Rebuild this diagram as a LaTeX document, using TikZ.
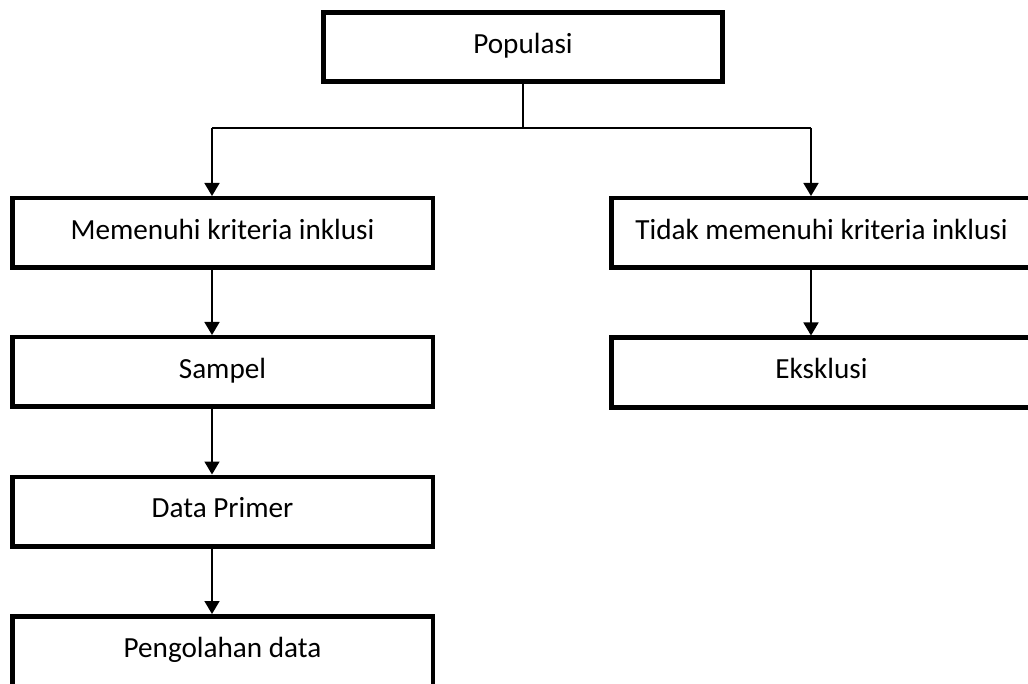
\documentclass[tikz,border=0pt]{standalone}
\usepackage{fontspec}
\setmainfont{Carlito}
\usetikzlibrary{arrows.meta,positioning}

\begin{document}
\begin{tikzpicture}[x=1pt, y=-1pt,
    box/.style={draw, line width=4.5pt, minimum width=420.5pt, minimum height=69.5pt, inner sep=0pt, align=center, font=\fontsize{29.2}{34}\selectfont, text height=20.8pt, text depth=8pt},
    arr/.style={-{Triangle[width=15pt,length=13pt]}, line width=1.7pt},
    ln/.style={line width=1.7pt}
]
\useasboundingbox (0,0) rectangle (1028,684);
\node[box, line width=5pt, minimum width=399pt, minimum height=69pt] (pop) at (523,47) {Populasi};
\node[box] (mem) at (222.5,233) {Memenuhi kriteria inklusi};
\node[box] (tdk) at (821.5,233) {Tidak memenuhi kriteria inklusi};
\node[box] (smp) at (222.5,372) {Sampel};
\node[box] (eks) at (821.5,372.5) {Eksklusi};
\node[box] (dat) at (222.5,511.5) {Data Primer};
\node[box] (olh) at (222.5,651) {Pengolahan data};

\coordinate (jc) at (523,128);
\coordinate (jl) at (212,128);
\coordinate (jr) at (811,128);

\draw[ln] (pop) -- (jc);
\draw[ln] (jl) -- (jr);
\draw[arr] (jl) -- (jl |- mem.north);
\draw[arr] (jr) -- (jr |- tdk.north);
\draw[arr] (jl |- mem.south) -- (jl |- smp.north);
\draw[arr] (jl |- smp.south) -- (jl |- dat.north);
\draw[arr] (jl |- dat.south) -- (jl |- olh.north);
\draw[arr] (jr |- tdk.south) -- (jr |- eks.north);
\end{tikzpicture}
\end{document}
